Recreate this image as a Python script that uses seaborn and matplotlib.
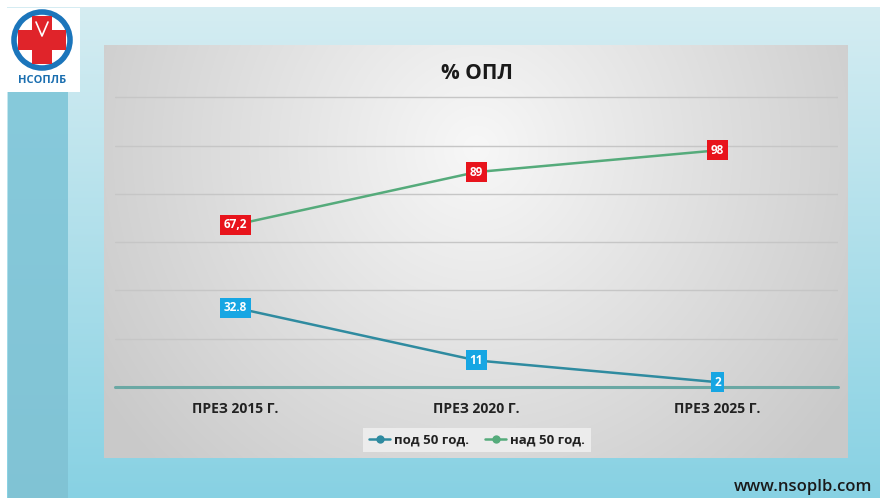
import numpy as np
import pandas as pd
import matplotlib.pyplot as plt
import seaborn as sns
from matplotlib.patches import Rectangle, Circle

# Данные
periods = ['ПРЕЗ 2015 Г.', 'ПРЕЗ 2020 Г.', 'ПРЕЗ 2025 Г.']
under_50 = [32.8, 11, 2]
over_50 = [67.2, 89, 98]
under_labels = ['32.8', '11', '2']
over_labels = ['67,2', '89', '98']
series_names = ['под 50 год.', 'над 50 год.']

df = pd.DataFrame({
    'period': periods * 2,
    'value': under_50 + over_50,
    'group': [series_names[0]] * 3 + [series_names[1]] * 3,
})

sns.set_theme(style='white')
plt.rcParams['font.family'] = ['Open Sans', 'DejaVu Sans']

W, H = 880, 498
fig = plt.figure(figsize=(8.8, 4.98), dpi=100)

# фон слайда (пиксельные координаты)
bg = fig.add_axes([0, 0, 1, 1])
yy, xx = np.mgrid[0:H, 0:W]
top = np.array([0.84, 0.93, 0.95])
bottom = np.array([0.53, 0.82, 0.89])
t = (yy / H)[..., None]
img = top * (1 - t) + bottom * t
strip = ((xx > 7) & (xx < 68) & (yy > 90))[..., None]
dark = np.array([0.52, 0.79, 0.86])
img = np.where(strip, dark * 0.97 + 0.03 * (1 - t), img)
img[:7, :] = 1
img[:, :7] = 1
bg.imshow(img, extent=(0, W, H, 0), aspect='auto')

# серая панель с градиентом
px0, px1, py0, py1 = 104, 848, 45, 458
ph, pw = py1 - py0, px1 - px0
gy, gx = np.mgrid[0:ph, 0:pw]
d = np.sqrt(((gx - pw * 0.5) / (pw * 0.6)) ** 2 + ((gy - ph * 0.25) / (ph * 1.1)) ** 2)
d = np.clip(d, 0, 1)
shade = 0.97 - 0.18 * d
bg.imshow(np.dstack([shade] * 3), extent=(px0, px1, py1, py0), aspect='auto')

# логотип
bg.add_patch(Rectangle((7, 8), 73, 84, facecolor='white', edgecolor='none'))
bg.add_patch(Circle((42, 40), 28, facecolor='white', edgecolor='#1b75bb', lw=4))
bg.add_patch(Rectangle((32, 16), 20, 48, facecolor='#e0242a', edgecolor='none'))
bg.add_patch(Rectangle((18, 30), 48, 20, facecolor='#e0242a', edgecolor='none'))
bg.plot([36, 42, 48], [22, 36, 22], color='white', lw=1.2)
bg.text(42, 80, 'НСОПЛБ', ha='center', va='center', fontsize=8,
        fontweight='bold', color='#1b6fb0')

bg.text(477, 73, '% ОПЛ', ha='center', va='center', fontsize=15,
        fontweight='bold', color='#1a1a1a')
bg.text(872, 487, 'www.nsoplb.com', ha='right', va='center', fontsize=12,
        fontweight='semibold', color='#1a1a1a')

bg.set_xlim(0, W)
bg.set_ylim(H, 0)
bg.axis('off')

# график
ax = fig.add_axes([115 / W, (H - 387) / H, 723 / W, 291 / H])
ax.set_facecolor('none')
palette = {series_names[0]: '#2f8ba0', series_names[1]: '#55ab7b'}
sns.lineplot(data=df, x='period', y='value', hue='group', palette=palette,
             marker='o', markersize=6, markeredgewidth=0, linewidth=1.8, ax=ax)

ax.set_xlim(-0.5, 2.5)
ax.set_ylim(0, 120.5)
ax.set_yticks(range(20, 121, 20))
ax.set_yticklabels([])
ax.grid(axis='y', color='#c6c6c6', lw=1)
ax.axhline(0, color='#6aa8a4', lw=2.2, zorder=1, clip_on=False)
for s in ax.spines.values():
    s.set_visible(False)
ax.tick_params(axis='x', length=0, pad=11, labelsize=10, labelcolor='#222222')
ax.tick_params(axis='y', length=0)
for lbl in ax.get_xticklabels():
    lbl.set_fontweight('bold')
ax.set_xlabel('')
ax.set_ylabel('')

# подписи значений
for i, (v, s) in enumerate(zip(under_50, under_labels)):
    ax.text(i, v, s, ha='center', va='center', fontsize=8.5, fontweight='bold',
            color='white', zorder=5,
            bbox=dict(boxstyle='square,pad=0.3', facecolor='#17a6e3', edgecolor='none'))
for i, (v, s) in enumerate(zip(over_50, over_labels)):
    ax.text(i, v, s, ha='center', va='center', fontsize=8.5, fontweight='bold',
            color='white', zorder=5,
            bbox=dict(boxstyle='square,pad=0.3', facecolor='#e8141c', edgecolor='none'))

handles, labels = ax.get_legend_handles_labels()
ax.get_legend().remove()
leg = fig.legend(handles, labels, loc='center', bbox_to_anchor=(477 / W, (H - 440) / H),
                 ncol=2, frameon=True, fancybox=False, facecolor='#ececec',
                 edgecolor='none', framealpha=1, handlelength=1.6, handletextpad=0.3,
                 columnspacing=1.2, borderpad=0.45, prop={'size': 9.5, 'weight': 'bold'})
for txt in leg.get_texts():
    txt.set_color('#222222')

fig.savefig('out.png', dpi=100)
